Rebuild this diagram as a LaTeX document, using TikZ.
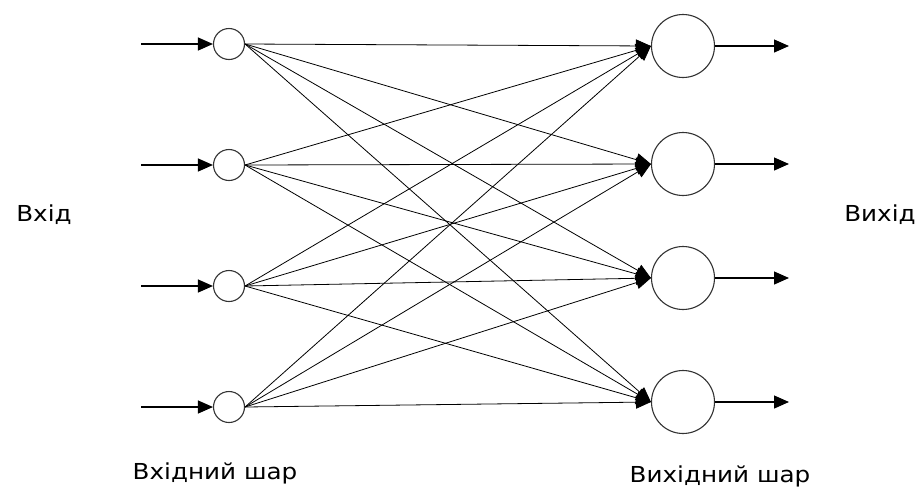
\documentclass[tikz,border=0pt]{standalone}
\usepackage{fontspec}
\setmainfont{DejaVu Sans}[FakeStretch=1.12]
\usepackage{tikz}
\usetikzlibrary{positioning, arrows.meta}

\begin{document}
\begin{tikzpicture}[x=1pt, y=-1pt, ->, >={Triangle[length=15pt,width=13pt]}, node distance=121pt,
    innode/.style={circle, draw=black!80, line width=1.1pt, minimum size=31pt, inner sep=0pt},
    outnode/.style={circle, draw=black!80, line width=1.1pt, minimum size=63pt, inner sep=0pt},
    weight/.style={line width=0.8pt},
    signal/.style={line width=1.2pt},
    lbl/.style={font=\fontsize{22}{24}\selectfont, inner sep=0pt}]
      \useasboundingbox (0,0) rectangle (924,491);

      % Input layer
      \node[innode] (i1) at (229,44) {};
      \node[innode] (i2) [below of=i1] {};
      \node[innode] (i3) [below of=i2] {};
      \node[innode] (i4) [below of=i3] {};

      % Output layer
      \node[outnode] (o1) at (683,46) {};
      \node[outnode] (o2) [below of=o1, node distance=118pt] {};
      \node[outnode] (o3) [below of=o2, node distance=114pt] {};
      \node[outnode] (o4) [below of=o3, node distance=124pt] {};

      % Free ends of the input and output signals
      \foreach \k in {1,...,4} {
        \coordinate[left of=i\k, node distance=88pt] (in\k);
        \coordinate[right of=o\k, node distance=106pt] (out\k);
      }

      % Signals
      \foreach \k in {1,...,4} {
        \draw[signal] (in\k) -- (i\k);
        \draw[signal] (o\k) -- (out\k);
      }

      % Full connections between the layers
      \foreach \i in {1,...,4}
        \foreach \j in {1,...,4}
          \draw[weight] (i\i.east) -- (o\j.west);

      % Labels
      \node[lbl] (inlbl) at (44,215) {Вхід};
      \node[lbl] (outlbl) at (880,215) {Вихід};
      \node[lbl] (inlayer) at (215,473) {Вхідний шар};
      \node[lbl] (outlayer) at (720,476) {Вихідний шар};
\end{tikzpicture}
\end{document}
